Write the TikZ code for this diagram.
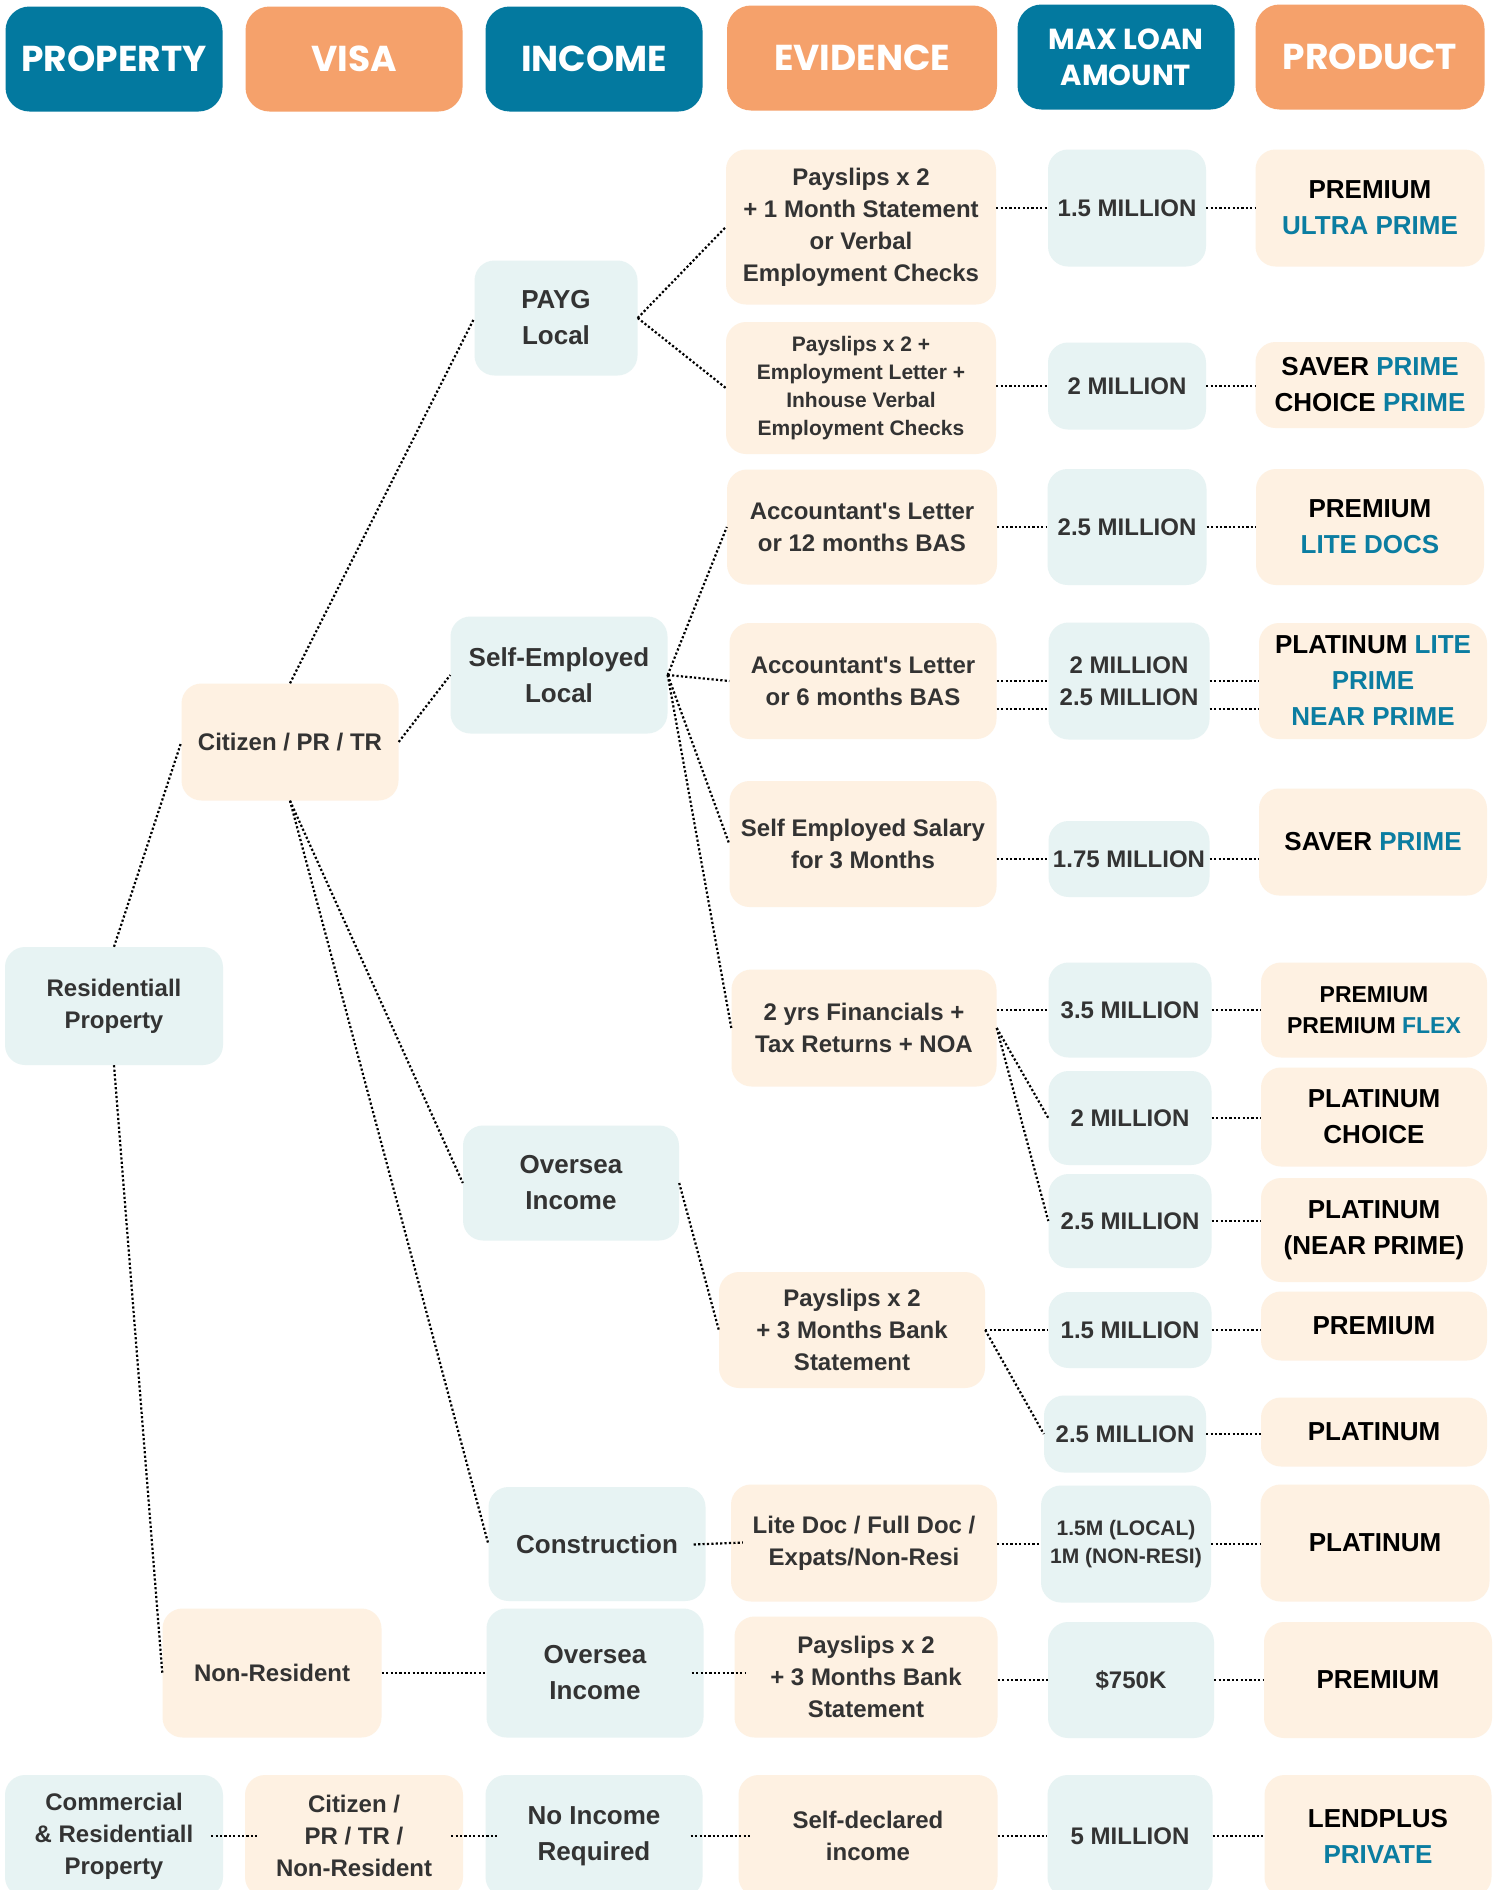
\documentclass[tikz,border=0pt]{standalone}
\usepackage{fontspec}
\setmainfont{Liberation Sans}
\newfontfamily\hdfont{Poppins}

\definecolor{hdrblue}{HTML}{03799F}
\definecolor{hdrorange}{HTML}{F5A16B}
\definecolor{boxteal}{HTML}{E7F3F3}
\definecolor{boxcream}{HTML}{FEF1E2}
\definecolor{txtgray}{HTML}{333333}
\definecolor{prodblue}{HTML}{0B7DA1}
\newcommand{\pb}[1]{\textcolor{prodblue}{#1}}

\tikzset{
  hdr/.style={rounded corners=24pt, text=white, align=center, inner sep=0pt,
    font=\hdfont\bfseries\fontsize{36}{36}\selectfont},
  cell/.style={rounded corners=20pt, align=center, inner sep=0pt, text=txtgray,
    font=\bfseries\fontsize{24}{32}\selectfont},
  tbox/.style={cell, fill=boxteal},
  cbox/.style={cell, fill=boxcream},
  ibox/.style={tbox, font=\bfseries\fontsize{26}{36}\selectfont},
  pbox/.style={cbox, text=black, font=\bfseries\fontsize{26}{36}\selectfont},
  wh/.style 2 args={minimum width=#1pt, minimum height=#2pt},
  link/.style={line width=2.2pt, dash pattern=on 2.2pt off 2.2pt},
  xlink/.style={link, shorten <=-12pt, shorten >=-12pt},
}

\begin{document}
\begin{tikzpicture}[x=1pt,y=-1pt]
        \clip (0,0) rectangle (1494,1890);
        \fill[white] (0,0) rectangle (1494,1890);
        \node[hdr,fill=hdrblue,wh={217}{105}] (hprop) at (114,59) {PROPERTY};
        \node[hdr,fill=hdrorange,wh={217}{105}] (hvisa) at (354,59) {VISA};
        \node[hdr,fill=hdrblue,wh={217}{105}] (hinc) at (594,59) {INCOME};
        \node[hdr,fill=hdrorange,wh={270}{105}] (hevid) at (862,58) {EVIDENCE};
        \node[hdr,fill=hdrblue,wh={217}{105},font=\hdfont\bfseries\fontsize{29}{36}\selectfont] (hloan) at (1126,57) {MAX LOAN\\AMOUNT};
        \node[hdr,fill=hdrorange,wh={229}{105}] (hprod) at (1370,57) {PRODUCT};

        \node[tbox,wh={218}{118}] (res) at (114,1006) {Residentiall\\Property};
        \node[tbox,wh={218}{122}] (com) at (114,1836) {Commercial\\\& Residentiall\\Property};

        \node[cbox,wh={217}{117}] (cit) at (290,742) {Citizen / PR / TR};
        \node[cbox,wh={219}{129}] (nonres) at (272,1673) {Non-Resident};
        \node[cbox,wh={218}{122}] (vis2) at (354,1836) {Citizen /\\PR / TR /\\Non-Resident};

        \node[ibox,wh={163}{115}] (payg) at (556,318) {PAYG\\Local};
        \node[ibox,wh={217}{117}] (self) at (559,675) {Self-Employed\\Local};
        \node[ibox,wh={216}{115}] (ovs1) at (571,1183) {Oversea\\Income};
        \node[ibox,wh={217}{114}] (cons) at (597,1544) {Construction};
        \node[ibox,wh={217}{129}] (ovs2) at (595,1673) {Oversea\\Income};
        \node[ibox,wh={217}{122}] (noinc) at (594,1836) {No Income\\Required};

        \node[cbox,wh={270}{155}] (e1) at (861,227) {Payslips x 2\\+ 1 Month Statement\\or Verbal\\Employment Checks};
        \node[cbox,wh={270}{132},font=\bfseries\fontsize{21}{28}\selectfont] (e2) at (861,388) {Payslips x 2 +\\Employment Letter +\\Inhouse Verbal\\Employment Checks};
        \node[cbox,wh={270}{115}] (e3) at (862,527) {Accountant\textquotesingle s Letter\\or 12 months BAS};
        \node[cbox,wh={267}{116}] (e4) at (863,681) {Accountant\textquotesingle s Letter\\or 6 months BAS};
        \node[cbox,wh={267}{126}] (e5) at (863,844) {Self Employed Salary\\for 3 Months};
        \node[cbox,wh={265}{117}] (e6) at (864,1028) {2 yrs Financials +\\Tax Returns + NOA};
        \node[cbox,wh={266}{116}] (e7) at (852,1330) {Payslips x 2\\+ 3 Months Bank\\Statement};
        \node[cbox,wh={266}{117}] (e8) at (864,1543) {Lite Doc / Full Doc /\\Expats/Non-Resi};
        \node[cbox,wh={263}{121}] (e9) at (866,1677) {Payslips x 2\\+ 3 Months Bank\\Statement};
        \node[cbox,wh={259}{122}] (e10) at (868,1836) {Self-declared\\income};

        \node[tbox,wh={158}{117}] (l1) at (1127,208) {1.5 MILLION};
        \node[tbox,wh={158}{87}] (l2) at (1127,386) {2 MILLION};
        \node[tbox,wh={159}{116}] (l3) at (1127,527) {2.5 MILLION};
        \node[tbox,wh={161}{117}] (l4) at (1129,681) {2 MILLION\\2.5 MILLION};
        \node[tbox,wh={161}{76}] (l5) at (1129,859) {1.75 MILLION};
        \node[tbox,wh={163}{95}] (l6) at (1130,1010) {3.5 MILLION};
        \node[tbox,wh={163}{94}] (l7) at (1130,1118) {2 MILLION};
        \node[tbox,wh={163}{94}] (l8) at (1130,1221) {2.5 MILLION};
        \node[tbox,wh={163}{76}] (l9) at (1130,1330) {1.5 MILLION};
        \node[tbox,wh={162}{77}] (l10) at (1125,1434) {2.5 MILLION};
        \node[tbox,wh={170}{117},font=\bfseries\fontsize{21}{28}\selectfont] (l11) at (1126,1544) {1.5M (LOCAL)\\1M (NON-RESI)};
        \node[tbox,wh={166}{116}] (l12) at (1131,1680) {\$750K};
        \node[tbox,wh={165}{122}] (l13) at (1130,1836) {5 MILLION};

        \node[pbox,wh={229}{117}] (p1) at (1370,208) {PREMIUM\\\pb{ULTRA PRIME}};
        \node[pbox,wh={229}{86}] (p2) at (1370,385) {SAVER \pb{PRIME}\\CHOICE \pb{PRIME}};
        \node[pbox,wh={228}{116}] (p3) at (1370,527) {PREMIUM\\\pb{LITE DOCS}};
        \node[pbox,wh={228}{116}] (p4) at (1373,681) {PLATINUM \pb{LITE}\\\pb{PRIME}\\\pb{NEAR PRIME}};
        \node[pbox,wh={228}{107}] (p5) at (1373,842) {SAVER \pb{PRIME}};
        \node[pbox,wh={226}{95},font=\bfseries\fontsize{23}{31}\selectfont] (p6) at (1374,1010) {PREMIUM\\PREMIUM \pb{FLEX}};
        \node[pbox,wh={226}{99}] (p7) at (1374,1117) {PLATINUM\\CHOICE};
        \node[pbox,wh={226}{104}] (p8) at (1374,1230) {PLATINUM\\(NEAR PRIME)};
        \node[pbox,wh={226}{69}] (p9) at (1374,1326) {PREMIUM};
        \node[pbox,wh={226}{69}] (p10) at (1374,1432) {PLATINUM};
        \node[pbox,wh={229}{117}] (p11) at (1375,1543) {PLATINUM};
        \node[pbox,wh={228}{116}] (p12) at (1378,1680) {PREMIUM};
        \node[pbox,wh={227}{122}] (p13) at (1378,1836) {LENDPLUS\\\pb{PRIVATE}};

        \draw[link] (res.north) -- (cit.west);
        \draw[link] (res.south) -- (nonres.west);
        \draw[link] (cit.north) -- (payg.west);
        \draw[link] (cit.east) -- (self.west);
        \draw[link] (cit.south) -- (ovs1.west);
        \draw[link] (cit.south) -- (cons.west);
        \draw[link] (payg.east) -- (e1.west);
        \draw[link] (payg.east) -- (e2.west);
        \foreach \e in {e3,e4,e5,e6}
            \draw[link] (self.east) -- (\e.west);
        \draw[link] (ovs1.east) -- (e7.west);
        \draw[xlink] (cons.east) -- (e8.west);
        \draw[link] (nonres.east) -- (ovs2.west);
        \draw[xlink] (ovs2.east) -- (ovs2.east -| e9.west);
        \draw[xlink] (com.east) -- (vis2.west);
        \draw[xlink] (vis2.east) -- (noinc.west);
        \draw[xlink] (noinc.east) -- (e10.west);
        \foreach \e/\l in {e1/l1,e2/l2,e3/l3,e4/l4,e5/l5,e6/l6,e8/l11,e9/l12,e10/l13}
            \draw[link] (\l.west -| \e.east) -- (\l.west);
        \draw[link] ([yshift=-28pt]e4.east) -- ([yshift=-28pt]l4.west);
        \draw[link] (e6.east) -- (l7.west);
        \draw[link] (e6.east) -- (l8.west);
        \draw[link] (e7.east) -- (l9.west);
        \draw[link] (e7.east) -- (l10.west);
        \foreach \i in {1,...,13}
            \draw[link] (l\i.east) -- (l\i.east -| p\i.west);
        \draw[link] ([yshift=-28pt]l4.east) -- ([yshift=-28pt]l4.east -| p4.west);
\end{tikzpicture}
\end{document}
